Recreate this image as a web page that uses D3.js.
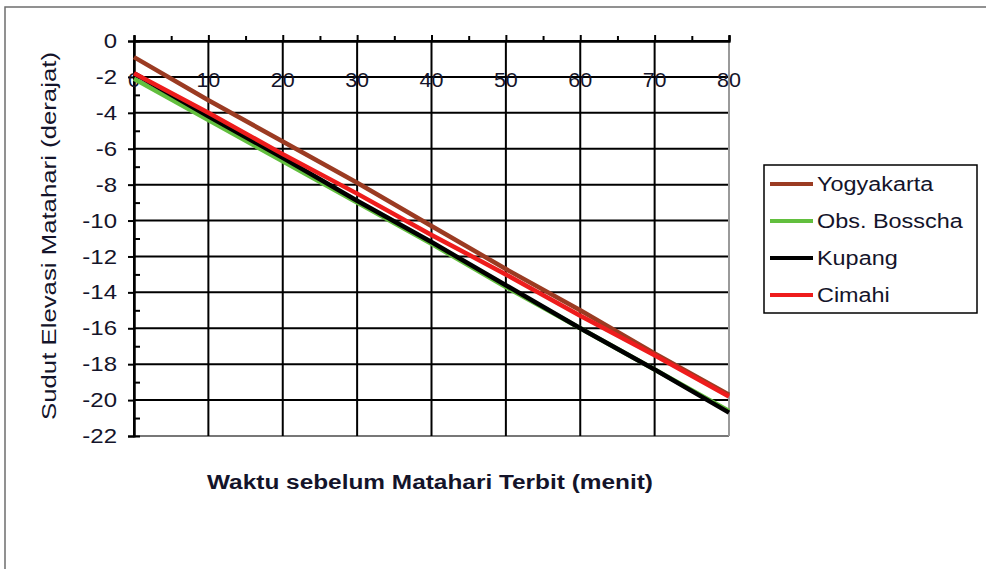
<!DOCTYPE html>
<html>
<head>
<meta charset="utf-8">
<script src="https://cdn.jsdelivr.net/npm/d3@7"></script>
<style>
  body { margin: 0; background: #fff; }
  svg { display: block; font-family: "Liberation Sans", Arial, sans-serif; }
</style>
</head>
<body>
<svg id="chart" width="986" height="569"></svg>
<script>
// data
const minutes = [0, 10, 20, 30, 40, 50, 60, 70, 80];
const yogyakarta = [-0.9, -3.3, -5.6, -7.9, -10.3, -12.7, -15.0, -17.4, -19.7];
const bosscha = [-2.1, -4.4, -6.7, -9.0, -11.3, -13.7, -16.0, -18.3, -20.6];
const kupang = [-1.8, -4.2, -6.5, -8.9, -11.2, -13.6, -16.0, -18.3, -20.7];
const cimahi = [-1.8, -4.0, -6.3, -8.5, -10.8, -13.0, -15.3, -17.5, -19.8];
const seriesNames = ["Yogyakarta", "Obs. Bosscha", "Kupang", "Cimahi"];
const xTicks = [0, 10, 20, 30, 40, 50, 60, 70, 80];
const xMinor = [5, 15, 25, 35, 45, 55, 65, 75];
const yTicks = [0, -2, -4, -6, -8, -10, -12, -14, -16, -18, -20, -22];
const yMinor = [-1, -3, -5, -7, -9, -11, -13, -15, -17, -19, -21];

const colors = ["#9b3b22", "#62bf3e", "#000000", "#ee1c1c"];
const series = [yogyakarta, bosscha, kupang, cimahi];
const textColor = "#14142a";

// the original text is drawn wider than normal Arial, so stretch glyphs
function stretch(sel, k) {
    sel.each(function() {
        const w = this.getComputedTextLength();
        d3.select(this)
            .attr("textLength", w * k)
            .attr("lengthAdjust", "spacingAndGlyphs");
    });
}

const svg = d3.select("#chart");

// outer chart border (only top and left show in the picture)
svg.append("rect")
    .attr("x", 5).attr("y", 7)
    .attr("width", 1000).attr("height", 600)
    .attr("fill", "none")
    .attr("stroke", "#6e6e6e")
    .attr("stroke-width", 1.5);

const x = d3.scaleLinear().domain([0, 80]).range([134, 729]);
const y = d3.scaleLinear().domain([0, -22]).range([41, 436]);

// grid
const grid = svg.append("g");
grid.selectAll("line.h")
    .data(yTicks)
    .enter().append("line")
    .attr("x1", x(0)).attr("x2", x(80))
    .attr("y1", d => y(d)).attr("y2", d => y(d))
    .attr("stroke", d => d === -22 ? "#777" : "#000")
    .attr("stroke-width", 2);
grid.selectAll("line.v")
    .data(xTicks)
    .enter().append("line")
    .attr("x1", d => x(d)).attr("x2", d => x(d))
    .attr("y1", y(0)).attr("y2", y(-22))
    .attr("stroke", d => d === 80 ? "#9a9a9a" : "#000")
    .attr("stroke-width", 2);

// x axis sits on top (at y = 0)
svg.append("g")
    .attr("transform", `translate(0,${y(0)})`)
    .call(d3.axisTop(x).tickValues(xTicks).tickSize(6).tickFormat(""));
svg.append("g")
    .attr("transform", `translate(0,${y(0)})`)
    .call(d3.axisTop(x).tickValues(xMinor).tickSize(5).tickFormat(""));

// y axis
const yAxis = svg.append("g")
    .attr("transform", `translate(${x(0)},0)`)
    .call(d3.axisLeft(y).tickValues(yTicks).tickSize(6).tickPadding(11)
        .tickFormat(d => d));
svg.append("g")
    .attr("transform", `translate(${x(0)},0)`)
    .call(d3.axisRight(y).tickValues(yMinor).tickSize(6).tickFormat(""));

svg.selectAll(".domain").attr("stroke", "#000").attr("stroke-width", 2);
svg.selectAll(".tick line").attr("stroke", "#000").attr("stroke-width", 2);

yAxis.selectAll(".tick text")
    .attr("font-size", 20.5)
    .attr("font-family", "Liberation Sans, Arial, sans-serif")
    .attr("fill", textColor)
    .call(stretch, 1.17);

// x tick labels, drawn just under the -2 gridline like the original
svg.append("g").selectAll("text")
    .data(xTicks)
    .enter().append("text")
    .attr("x", d => x(d))
    .attr("y", y(-2) + 10.5)
    .attr("text-anchor", "middle")
    .attr("font-size", 20.5)
    .attr("fill", textColor)
    .text(d => d)
    .call(stretch, 1.05);

// lines
const line = d3.line()
    .x((d, i) => x(minutes[i]))
    .y(d => y(d));

svg.append("g").selectAll("path")
    .data(series)
    .enter().append("path")
    .attr("d", d => line(d))
    .attr("fill", "none")
    .attr("stroke", (d, i) => colors[i])
    .attr("stroke-width", 4.5);

// axis titles
svg.append("text")
    .attr("transform", "translate(56,236) rotate(-90)")
    .attr("text-anchor", "middle")
    .attr("font-size", 19.5)
    .attr("fill", textColor)
    .attr("textLength", 368)
    .attr("lengthAdjust", "spacingAndGlyphs")
    .text("Sudut Elevasi Matahari (derajat)");

svg.append("text")
    .attr("x", 430)
    .attr("y", 489)
    .attr("text-anchor", "middle")
    .attr("font-size", 19.5)
    .attr("font-weight", "bold")
    .attr("fill", textColor)
    .attr("textLength", 446)
    .attr("lengthAdjust", "spacingAndGlyphs")
    .text("Waktu sebelum Matahari Terbit (menit)");

// legend
const legend = svg.append("g").attr("transform", "translate(764,165)");
legend.append("rect")
    .attr("width", 213).attr("height", 148)
    .attr("fill", "#fff")
    .attr("stroke", "#000")
    .attr("stroke-width", 1.5);
const item = legend.selectAll("g.item")
    .data(seriesNames)
    .enter().append("g")
    .attr("class", "item")
    .attr("transform", (d, i) => `translate(0,${19 + i * 37})`);
item.append("line")
    .attr("x1", 6).attr("x2", 49)
    .attr("stroke", (d, i) => colors[i])
    .attr("stroke-width", 4);
item.append("text")
    .attr("x", 53)
    .attr("dy", "0.35em")
    .attr("font-size", 19.5)
    .attr("fill", textColor)
    .text(d => d)
    .call(stretch, 1.2);
</script>
</body>
</html>
